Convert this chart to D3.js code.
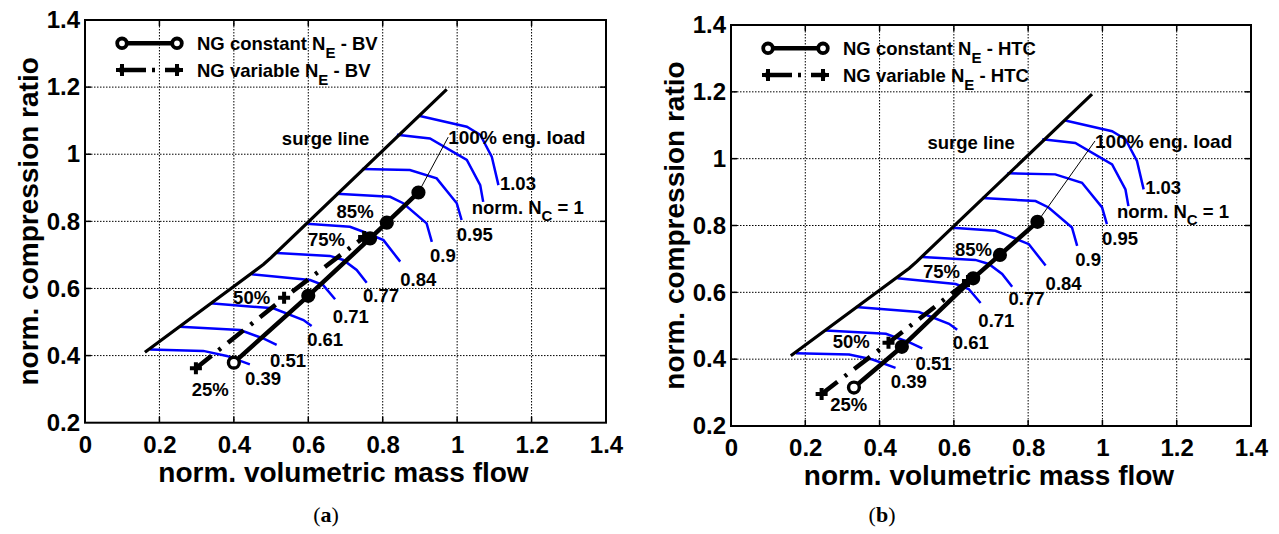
<!DOCTYPE html>
<html><head><meta charset="utf-8">
<script src="https://cdn.jsdelivr.net/npm/d3@7"></script>
<style>body{margin:0;background:#fff}text{font-family:"Liberation Sans",Arial,sans-serif;font-weight:bold;fill:#000}text.cap{font-family:"Liberation Serif",serif;font-weight:normal}text.cap tspan.b{font-weight:bold}</style>
</head><body><svg id="c" width="1279" height="534"></svg>
<script>
// ---------- data ----------
const xTicks=[0,0.2,0.4,0.6,0.8,1,1.2,1.4];
const yTicks=[0.2,0.4,0.6,0.8,1,1.2,1.4];
const surgeX=[0.161,0.48,0.5,0.972];
const surgeY=[0.41,0.672,0.692,1.193];
const speedLabels=["0.39","0.51","0.61","0.71","0.77","0.84","0.9","0.95","1","1.03"];
const speedX=[
 [0.175,0.318,0.381,0.443],
 [0.255,0.417,0.479,0.515],
 [0.336,0.506,0.587,0.609],
 [0.448,0.605,0.64,0.672],
 [0.515,0.658,0.694,0.73,0.757],
 [0.596,0.712,0.748,0.802,0.847],
 [0.676,0.82,0.855,0.918,0.932],
 [0.744,0.873,0.945,0.999,1.012],
 [0.838,0.927,1.026,1.062,1.07],
 [0.9,1.026,1.062,1.093,1.111]];
const speedY=[
 [0.418,0.414,0.399,0.374],
 [0.486,0.476,0.451,0.432],
 [0.556,0.541,0.506,0.488],
 [0.642,0.625,0.61,0.568],
 [0.706,0.697,0.685,0.655,0.617],
 [0.793,0.784,0.769,0.744,0.68],
 [0.882,0.873,0.854,0.794,0.739],
 [0.956,0.953,0.928,0.854,0.804],
 [1.058,1.047,0.983,0.908,0.858],
 [1.114,1.082,1.058,0.993,0.908]];
const speedLabelX=[0.43,0.497,0.597,0.666,0.747,0.847,0.927,0.999,1.039,1.115];
const speedLabelY=[0.333,0.387,0.449,0.516,0.581,0.627,0.698,0.762,0.843,0.914];
const loadLabels=["25%","50%","75%","85%"];
// panel (a) - BV
const constBVx=[0.400,0.600,0.766,0.811,0.896];
const constBVy=[0.379,0.578,0.749,0.796,0.886];
const varBVx=[0.298,0.535,0.75];
const varBVy=[0.362,0.572,0.753];
const loadLabBVx=[0.287,0.398,0.599,0.676];
const loadLabBVy=[0.30,0.575,0.747,0.829];
const fullLoadLabBV=[0.976,1.051];
// panel (b) - HTC
const constHTCx=[0.331,0.46,0.652,0.724,0.825];
const constHTCy=[0.315,0.437,0.642,0.712,0.811];
const varHTCx=[0.244,0.424,0.638];
const varHTCy=[0.296,0.449,0.634];
const loadLabHTCx=[0.267,0.274,0.517,0.603];
const loadLabHTCy=[0.266,0.452,0.662,0.73];
const fullLoadLabHTC=[0.98,1.053];
const surgeLabel=[0.529,1.048];

// ---------- drawing ----------
const svg=d3.select("#c");
svg.append("rect").attr("width",1279).attr("height",534).attr("fill","#fff");
const zip=(a,b)=>a.map((v,i)=>[v,b[i]]);

function panel(o){
  const x=d3.scaleLinear().domain([0,1.4]).range([o.L,o.R]);
  const y=d3.scaleLinear().domain([0.2,1.4]).range([o.B,o.T]);
  const g=svg.append("g");
  const line=d3.line().x(d=>x(d[0])).y(d=>y(d[1]));
  // grid
  g.selectAll(".gx").data(xTicks.slice(1,-1)).join("line")
    .attr("x1",d=>x(d)).attr("x2",d=>x(d)).attr("y1",o.T).attr("y2",o.B)
    .attr("stroke","#000").attr("stroke-width",1).attr("stroke-dasharray","1.5,1.5");
  g.selectAll(".gy").data(yTicks.slice(1,-1)).join("line")
    .attr("y1",d=>y(d)).attr("y2",d=>y(d)).attr("x1",o.L).attr("x2",o.R)
    .attr("stroke","#000").attr("stroke-width",1).attr("stroke-dasharray","1.5,1.5");
  // speed lines
  speedX.forEach((xs,i)=>{
    g.append("path").attr("d",line(zip(xs,speedY[i]))).attr("fill","none")
     .attr("stroke","#0000ff").attr("stroke-width",2.5);
  });
  // surge line
  g.append("path").attr("d",line(zip(surgeX,surgeY))).attr("fill","none")
    .attr("stroke","#000").attr("stroke-width",3.2);
  // thin line to 100% label
  const n=o.cx.length-1;
  g.append("line").attr("x1",x(o.cx[n])).attr("y1",y(o.cy[n]))
    .attr("x2",x(o.full[0])).attr("y2",y(o.full[1])).attr("stroke","#000").attr("stroke-width",1);
  // variable line
  g.append("path").attr("d",line(zip(o.vx,o.vy))).attr("fill","none")
    .attr("stroke","#000").attr("stroke-width",4.5).attr("stroke-dasharray","20,9,3,9");
  // constant line
  g.append("path").attr("d",line(zip(o.cx,o.cy))).attr("fill","none")
    .attr("stroke","#000").attr("stroke-width",4.5);
  // markers
  g.selectAll(".cm").data(zip(o.cx,o.cy)).join("circle")
    .attr("cx",d=>x(d[0])).attr("cy",d=>y(d[1])).attr("r",5.4)
    .attr("fill",(d,i)=>i===0?"#fff":"#000").attr("stroke","#000").attr("stroke-width",3.4);
  g.selectAll(".vm").data(zip(o.vx,o.vy)).join("path")
    .attr("transform",d=>`translate(${x(d[0])},${y(d[1])})`)
    .attr("d","M-6,0H6M0,-6V6").attr("stroke","#000").attr("stroke-width",4).attr("fill","none");
  // speed labels
  speedLabels.forEach((s,i)=>{
    const t=g.append("text").attr("x",x(speedLabelX[i])).attr("y",y(speedLabelY[i]))
      .attr("dy","0.36em").attr("font-size",18.5);
    if(s==="1"){
      t.append("tspan").text("norm. N");
      t.append("tspan").attr("dy",7).attr("font-size",15).text("C");
      t.append("tspan").attr("dy",-7).text(" = 1");
    } else t.text(s);
  });
  // load labels
  loadLabels.forEach((s,i)=>{
    g.append("text").attr("x",x(o.lx[i])).attr("y",y(o.ly[i])).attr("dy","0.36em")
     .attr("font-size",18.5).text(s);
  });
  g.append("text").attr("x",x(o.full[0])).attr("y",y(o.full[1])).attr("dy","0.36em")
    .attr("font-size",19).text("100% eng. load");
  g.append("text").attr("x",x(surgeLabel[0])).attr("y",y(surgeLabel[1])).attr("dy","0.36em")
    .attr("font-size",18.5).text("surge line");
  // box
  g.append("rect").attr("x",o.L).attr("y",o.T).attr("width",o.R-o.L).attr("height",o.B-o.T)
    .attr("fill","none").attr("stroke","#000").attr("stroke-width",2);
  // inner ticks
  xTicks.slice(1,-1).forEach(v=>{
    g.append("line").attr("x1",x(v)).attr("x2",x(v)).attr("y1",o.B).attr("y2",o.B-6).attr("stroke","#000").attr("stroke-width",1.5);
    g.append("line").attr("x1",x(v)).attr("x2",x(v)).attr("y1",o.T).attr("y2",o.T+6).attr("stroke","#000").attr("stroke-width",1.5);
  });
  yTicks.slice(1,-1).forEach(v=>{
    g.append("line").attr("y1",y(v)).attr("y2",y(v)).attr("x1",o.L).attr("x2",o.L+6).attr("stroke","#000").attr("stroke-width",1.5);
    g.append("line").attr("y1",y(v)).attr("y2",y(v)).attr("x1",o.R).attr("x2",o.R-6).attr("stroke","#000").attr("stroke-width",1.5);
  });
  // axes labels via d3 axes
  const ax=g.append("g").attr("transform",`translate(0,${o.B})`)
    .call(d3.axisBottom(x).tickValues(xTicks).tickFormat(d3.format("~g")).tickSize(0).tickPadding(13));
  ax.select(".domain").remove();
  ax.selectAll("text").attr("font-size",24).attr("font-family","Liberation Sans, Arial").attr("font-weight","bold").attr("fill","#000");
  const ay=g.append("g").attr("transform",`translate(${o.L},0)`)
    .call(d3.axisLeft(y).tickValues(yTicks).tickFormat(d3.format("~g")).tickSize(0).tickPadding(5));
  ay.select(".domain").remove();
  ay.selectAll("text").attr("font-size",24).attr("font-family","Liberation Sans, Arial").attr("font-weight","bold").attr("fill","#000");
  // titles
  g.append("text").attr("x",(o.L+o.R)/2-2).attr("y",o.B+59).attr("text-anchor","middle")
    .attr("font-size",28).text("norm. volumetric mass flow");
  g.append("text").attr("transform",`translate(${o.L-47},${(o.T+o.B)/2}) rotate(-90)`)
    .attr("text-anchor","middle").attr("font-size",28).text("norm. compression ratio");
  // legend
  const lx1=o.L+37, lx2=o.L+92, ly1=o.T+23.3, ly2=o.T+50;
  g.append("line").attr("x1",lx1).attr("x2",lx2).attr("y1",ly1).attr("y2",ly1).attr("stroke","#000").attr("stroke-width",4.5);
  [lx1,lx2].forEach(cx=>g.append("circle").attr("cx",cx).attr("cy",ly1).attr("r",4.8).attr("fill","#fff").attr("stroke","#000").attr("stroke-width",3.8));
  g.append("line").attr("x1",lx1-3).attr("x2",lx2+3).attr("y1",ly2).attr("y2",ly2).attr("stroke","#000").attr("stroke-width",4.5).attr("stroke-dasharray","27,6,3,10,20");
  [lx1,lx2].forEach(cx=>g.append("path").attr("transform",`translate(${cx},${ly2})`).attr("d","M-6,0H6M0,-6V6").attr("stroke","#000").attr("stroke-width",4));
  [[ly1,"NG constant N"],[ly2,"NG variable N"]].forEach(([yy,s])=>{
    const t=g.append("text").attr("x",o.L+112).attr("y",yy).attr("dy","0.36em").attr("font-size",18.5);
    t.append("tspan").text(s);
    t.append("tspan").attr("dy",8).attr("font-size",15).text("E");
    t.append("tspan").attr("dy",-8).text(" - "+o.tag);
  });
  // caption
  const c=svg.append("text").attr("class","cap").attr("x",o.cap).attr("y",522).attr("text-anchor","middle")
    .attr("font-size",22);
  c.append("tspan").text("(");
  c.append("tspan").attr("class","b").text(o.capText);
  c.append("tspan").text(")");
}

panel({L:85,R:606,T:20,B:422.7,cx:constBVx,cy:constBVy,vx:varBVx,vy:varBVy,lx:loadLabBVx,ly:loadLabBVy,full:fullLoadLabBV,tag:"BV",cap:326,capText:"a"});
panel({L:731,R:1251,T:25,B:426,cx:constHTCx,cy:constHTCy,vx:varHTCx,vy:varHTCy,lx:loadLabHTCx,ly:loadLabHTCy,full:fullLoadLabHTC,tag:"HTC",cap:882,capText:"b"});
</script></body></html>
